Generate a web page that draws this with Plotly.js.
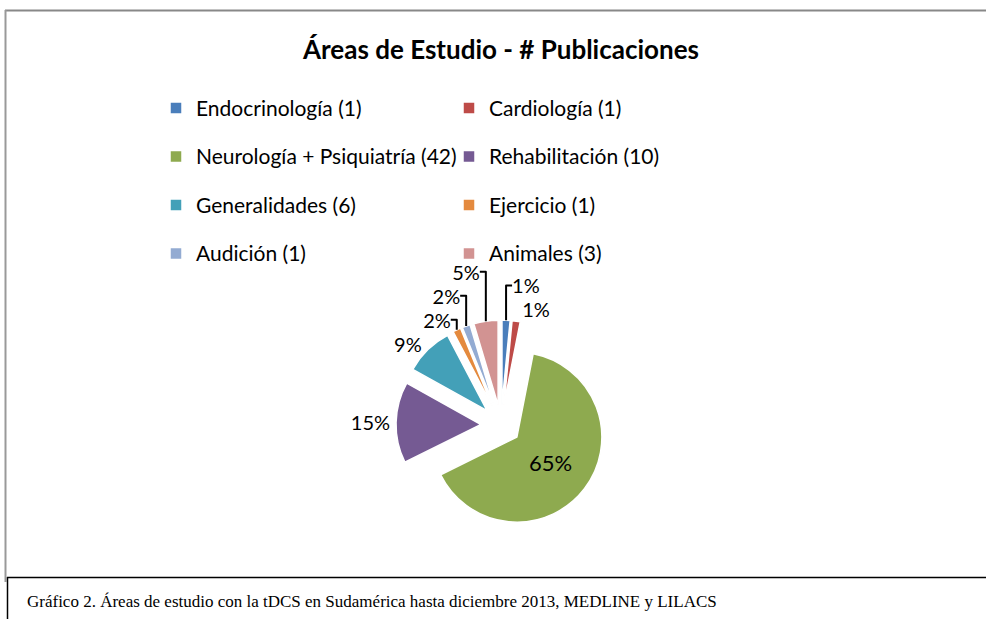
<!DOCTYPE html>
<html>
<head>
<meta charset="utf-8">
<script src="https://cdn.plot.ly/plotly-3.0.1.min.js"></script>
<style>
html,body{margin:0;padding:0;background:#fff;}
#chart{width:986px;height:619px;}
</style>
</head>
<body>
<div id="chart"></div>
<script>
// ---- data ----
const areaNames = ["Endocrinología", "Cardiología", "Neurología + Psiquiatría", "Rehabilitación",
                   "Generalidades", "Ejercicio", "Audición", "Animales"];
const publicationCounts = [1, 1, 42, 10, 6, 1, 1, 3];
const percentLabels = ["1%", "1%", "65%", "15%", "9%", "2%", "2%", "5%"];
const sliceColors = ["#4A7EBB", "#BE4B48", "#8EAA4F", "#755A93", "#43A0B8", "#E48A3E", "#93ABD2", "#D29392"];
const chartTitle = "Áreas de Estudio - # Publicaciones";
const captionText = "Gráfico 2. Áreas de estudio con la tDCS en Sudamérica hasta diciembre 2013, MEDLINE y LILACS";

// ---- build ----
const W = 986, H = 619;
const MR = 200;                  // right margin keeps the legend at two columns
const PW = W - MR;               // plot-area width
const px = x => x / PW;          // page pixel -> paper fraction
const py = y => 1 - y / H;

const legendLabels = areaNames.map((n, i) =>
  '<span style="font-size:21px;baseline-shift:6px">' + n + ' (' + publicationCounts[i] + ')</span>');
const textPositions = publicationCounts.map((v, i) => (i === 2 ? "inside" : "outside"));

const pieCx = 501, pieCy = 425, pieR = 85, pull = 0.235;
const half = pieR * (1 + pull);

const trace = {
  type: "pie",
  labels: legendLabels,
  values: publicationCounts,
  text: percentLabels,
  textinfo: "text",
  textposition: textPositions,
  insidetextorientation: "horizontal",
  insidetextfont: {family: "Lato, sans-serif", size: 22, color: "#000"},
  outsidetextfont: {family: "Lato, sans-serif", size: 20, color: "#000"},
  sort: false,
  direction: "clockwise",
  rotation: 0,
  pull: pull,
  marker: {colors: sliceColors, line: {color: "#ffffff", width: 1.5}},
  domain: {x: [px(pieCx - half), px(pieCx + half)], y: [py(pieCy + half), py(pieCy - half)]},
  hoverinfo: "none"
};

const layout = {
  width: W, height: H,
  margin: {l: 0, r: MR, t: 0, b: 0, autoexpand: false},
  paper_bgcolor: "#ffffff",
  font: {family: "Lato, sans-serif", color: "#000"},
  title: {text: "<b>" + chartTitle + "</b>", font: {family: "Lato, sans-serif", size: 26, color: "#000"},
          xref: "container", yref: "container",
          x: 501 / W, xanchor: "center", y: 1 - 50 / H, yanchor: "middle"},
  showlegend: true,
  legend: {
    orientation: "h",
    x: px(156), xanchor: "left",
    y: py(78.75), yanchor: "top",
    font: {family: "Lato, sans-serif", size: 35, color: "#000"},
    entrywidth: 248, entrywidthmode: "pixels",
    itemwidth: 30,
    traceorder: "normal",
    bgcolor: "rgba(0,0,0,0)"
  },
  shapes: [
    {type: "line", xref: "paper", yref: "paper", x0: px(5), x1: px(W), y0: py(10.5), y1: py(10.5), line: {color: "#888", width: 2}},
    {type: "line", xref: "paper", yref: "paper", x0: px(5.5), x1: px(5.5), y0: py(10), y1: py(582), line: {color: "#999", width: 2}},
    {type: "line", xref: "paper", yref: "paper", x0: px(7), x1: px(W), y0: py(577.5), y1: py(577.5), line: {color: "#000", width: 1.5}},
    {type: "line", xref: "paper", yref: "paper", x0: px(7.5), x1: px(7.5), y0: py(577), y1: 0, line: {color: "#000", width: 1.5}}
  ],
  annotations: [
    {text: captionText, xref: "paper", yref: "paper", x: px(25), y: py(601), xanchor: "left", yanchor: "middle",
     showarrow: false, font: {family: "Liberation Serif, Times New Roman, serif", size: 17, color: "#000"}}
  ]
};

Plotly.newPlot("chart", [trace], layout, {displayModeBar: false, staticPlot: true});
</script>
</body>
</html>
